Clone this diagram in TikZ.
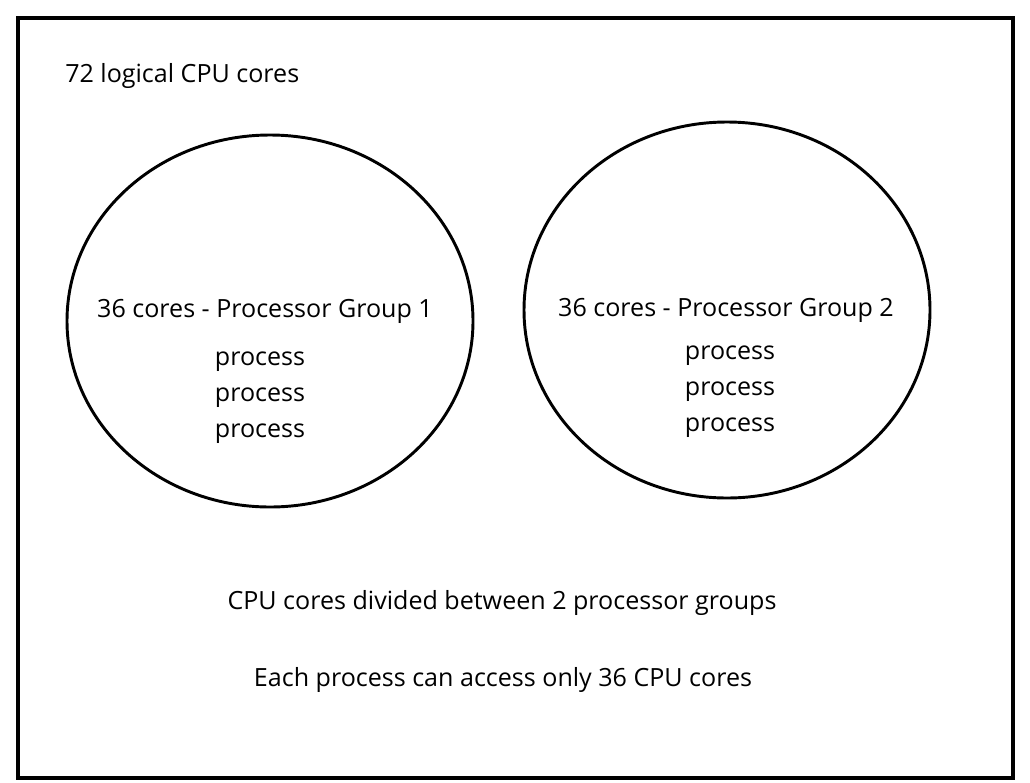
\documentclass[tikz,border=0pt]{standalone}
\usepackage{fontspec}
\setmainfont{Open Sans}
\begin{document}
\begin{tikzpicture}[x=0.75pt,y=-0.75pt,
  lbl/.style={font=\fontsize{18.8}{22}\selectfont, inner sep=0pt},
  grp/.style={draw, line width=2.2pt, ellipse}]
\useasboundingbox (0,0) rectangle (1030,782);
\draw[line width=3pt] (18,18) rectangle (1013,778);
\draw[line width=2.2pt] (270,321) ellipse [x radius=203, y radius=186];
\draw[line width=2.2pt] (727,310) ellipse [x radius=203, y radius=188];
\node[lbl, anchor=west] (title) at (65,76) {72 logical CPU cores};
\node[lbl] (g1) at (265,311) {36 cores - Processor Group 1};
\node[lbl] (p11) at (260,362) {process};
\node[lbl] (p12) at (260,398) {process};
\node[lbl] (p13) at (260,434) {process};
\node[lbl] (g2) at (726,310) {36 cores - Processor Group 2};
\node[lbl] (p21) at (730,356) {process};
\node[lbl] (p22) at (730,392) {process};
\node[lbl] (p23) at (730,428) {process};
\node[lbl] (b1) at (502,603) {CPU cores divided between 2 processor groups};
\node[lbl] (b2) at (503,680) {Each process can access only 36 CPU cores};
\end{tikzpicture}
\end{document}
